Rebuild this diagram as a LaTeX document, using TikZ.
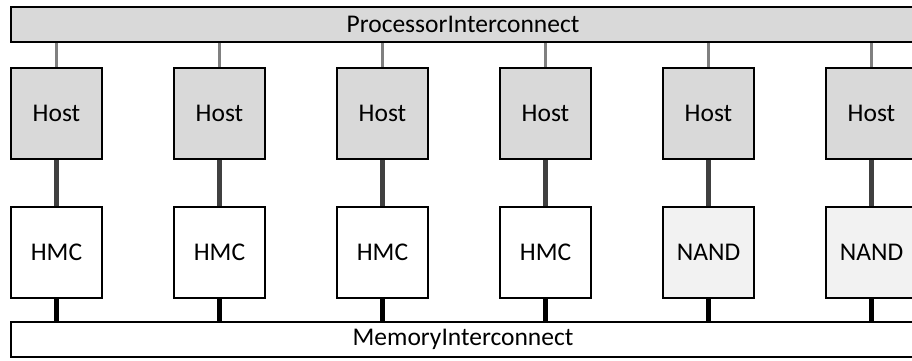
\documentclass[tikz,border=0pt]{standalone}
\usepackage{fontspec}
\setmainfont{Carlito}
\usepackage{tikz}
\usetikzlibrary{positioning}

\definecolor{hostgray}{HTML}{D9D9D9}
\definecolor{nandgray}{HTML}{F2F2F2}
\definecolor{linkgray}{HTML}{808080}
\definecolor{linkdark}{HTML}{404040}

\begin{document}
\begin{tikzpicture}[x=1pt,y=1pt]
	\tikzstyle{block} = [draw, rectangle, line width=2pt, minimum height=91pt, minimum width=91pt, font=\fontsize{25.5}{30}\selectfont]
	\tikzstyle{bus} = [draw, rectangle, line width=2pt, minimum height=35pt, minimum width=904pt, font=\fontsize{25.5}{30}\selectfont]
	\tikzstyle{hostlink} = [draw=linkgray, line width=3.5pt]
	\tikzstyle{memlink} = [draw=linkdark, line width=4.5pt]
	\tikzstyle{buslink} = [draw=black, line width=5pt]
	
	\useasboundingbox (0,0) rectangle (912,-361);
	
	\node[bus, fill=hostgray, anchor=north west] (proc) at (10,-6) {ProcessorInterconnect};
	
	\node[block, fill=hostgray, anchor=north west] (host1) at (10,-67) {Host};
	\node[block, fill=hostgray, right = 70pt of host1] (host2) {Host};
	\node[block, fill=hostgray, right = 70pt of host2] (host3) {Host};
	\node[block, fill=hostgray, right = 70pt of host3] (host4) {Host};
	\node[block, fill=hostgray, right = 70pt of host4] (host5) {Host};
	\node[block, fill=hostgray, right = 70pt of host5] (host6) {Host};
	
	\node[block, fill=white, below = 46pt of host1] (mem1) {HMC};
	\node[block, fill=white, below = 46pt of host2] (mem2) {HMC};
	\node[block, fill=white, below = 46pt of host3] (mem3) {HMC};
	\node[block, fill=white, below = 46pt of host4] (mem4) {HMC};
	\node[block, fill=nandgray, below = 46pt of host5] (mem5) {NAND};
	\node[block, fill=nandgray, below = 46pt of host6] (mem6) {NAND};
	
	\node[bus, fill=white, below = 22pt of mem1.south west, anchor=north west] (memnet) {MemoryInterconnect};
	
	% processor side links
	\draw[hostlink] (proc.south -| host1) -- (host1);
	\draw[hostlink] (proc.south -| host2) -- (host2);
	\draw[hostlink] (proc.south -| host3) -- (host3);
	\draw[hostlink] (proc.south -| host4) -- (host4);
	\draw[hostlink] (proc.south -| host5) -- (host5);
	\draw[hostlink] (proc.south -| host6) -- (host6);
	
	% host to memory
	\draw[memlink] (host1) -- (mem1);
	\draw[memlink] (host2) -- (mem2);
	\draw[memlink] (host3) -- (mem3);
	\draw[memlink] (host4) -- (mem4);
	\draw[memlink] (host5) -- (mem5);
	\draw[memlink] (host6) -- (mem6);
	
	% memory side links
	\draw[buslink] (mem1) -- (memnet.north -| mem1);
	\draw[buslink] (mem2) -- (memnet.north -| mem2);
	\draw[buslink] (mem3) -- (memnet.north -| mem3);
	\draw[buslink] (mem4) -- (memnet.north -| mem4);
	\draw[buslink] (mem5) -- (memnet.north -| mem5);
	\draw[buslink] (mem6) -- (memnet.north -| mem6);
	
\end{tikzpicture}
\end{document}
